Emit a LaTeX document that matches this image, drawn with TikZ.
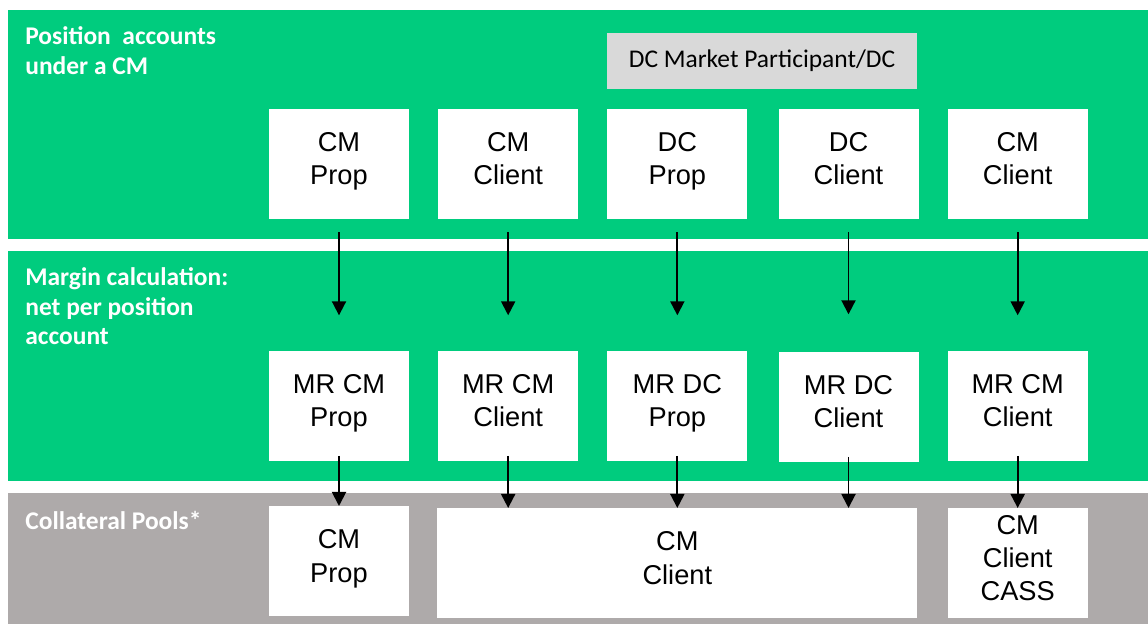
\documentclass[tikz,border=0pt]{standalone}
\usepackage{fontspec}
\setmainfont{Liberation Sans}
\newfontfamily\labelfont{Carlito}
\usetikzlibrary{arrows.meta,positioning}
\definecolor{bandgreen}{RGB}{0,204,126}
\definecolor{poolgray}{RGB}{174,170,170}
\definecolor{dcgray}{RGB}{217,217,217}

\begin{document}
\begin{tikzpicture}[
    x=0.02cm, y=-0.02cm,
    acct/.style={rectangle, fill=white, minimum width=2.8cm, minimum height=2.2cm, align=center, inner sep=0pt,
        font=\fontsize{15.5}{19}\selectfont, execute at begin node={\rule{0pt}{17pt}}, execute at end node={\rule[-6pt]{0pt}{6pt}}},
    dcbox/.style={rectangle, fill=dcgray, minimum width=6.2cm, minimum height=1.12cm, inner sep=0pt, font=\labelfont\fontsize{14.5}{17}\selectfont},
    rowlabel/.style={anchor=north west, align=left, inner sep=0pt, text=white, font=\labelfont\bfseries\fontsize{14.5}{17}\selectfont},
    arrow/.style={-{Triangle[width=8pt,length=8pt]}, line width=1.1pt}
]
\useasboundingbox (0,0) rectangle (1148,624);
\fill[white] (0,0) rectangle (1148,624);

% Bands
\fill[bandgreen] (8,10) rectangle (1148,239);
\fill[bandgreen] (8,251) rectangle (1148,481);
\fill[poolgray] (8,493) rectangle (1148,624);

% Row labels
\node[rowlabel] (poslabel) at (25,26) {Position\ \ accounts\\under a CM};
\node[rowlabel] (marginlabel) at (25,267) {Margin calculation:\\net per position\\account};
\node[rowlabel] (poollabel) at (25,511) {Collateral Pools*};

% Position accounts
\node[acct] (cmprop) at (339,164) {CM\\Prop};
\node[acct, right=0.57cm of cmprop] (cmclient) {CM\\Client};
\node[acct, right=0.57cm of cmclient] (dcprop) {DC\\Prop};
\node[acct, right=0.61cm of dcprop] (dcclient) {DC\\Client};
\node[acct, right=0.57cm of dcclient] (cmclienttwo) {CM\\Client};
\node[dcbox] (dcmp) at (762,61) {DC Market Participant/DC};

% Margin requirements
\node[acct, below=2.62cm of cmprop] (mrcmprop) {MR CM\\Prop};
\node[acct, below=2.62cm of cmclient] (mrcmclient) {MR CM\\Client};
\node[acct, below=2.62cm of dcprop] (mrdcprop) {MR DC\\Prop};
\node[acct, below=2.64cm of dcclient] (mrdcclient) {MR DC\\Client};
\node[acct, below=2.62cm of cmclienttwo] (mrcmclienttwo) {MR CM\\Client};

% Collateral pools
\node[acct, below=0.9cm of mrcmprop] (poolprop) {CM\\Prop};
\node[acct, minimum width=9.6cm, below=0.94cm of mrdcprop] (poolclient) {CM\\Client};
\node[acct, below=0.94cm of mrcmclienttwo] (poolcass) {CM\\Client\\CASS};

% Arrows
\draw[arrow] ([yshift=-0.26cm]cmprop.south) -- ([yshift=0.7cm]mrcmprop.north);
\draw[arrow] ([yshift=-0.26cm]cmclient.south) -- ([yshift=0.7cm]mrcmclient.north);
\draw[arrow] ([yshift=-0.26cm]dcprop.south) -- ([yshift=0.7cm]mrdcprop.north);
\draw[arrow] ([yshift=-0.26cm]dcclient.south) -- ([yshift=0.74cm]mrdcclient.north);
\draw[arrow] ([yshift=-0.26cm]cmclienttwo.south) -- ([yshift=0.7cm]mrcmclienttwo.north);

\draw[arrow] ([yshift=0.1cm]mrcmprop.south) -- (poolprop.north);
\draw[arrow] ([yshift=0.1cm]mrcmclient.south) -- (mrcmclient.south |- poolclient.north);
\draw[arrow] ([yshift=0.1cm]mrdcprop.south) -- (poolclient.north);
\draw[arrow] ([yshift=0.1cm]mrdcclient.south) -- (mrdcclient.south |- poolclient.north);
\draw[arrow] ([yshift=0.1cm]mrcmclienttwo.south) -- (poolcass.north);

\end{tikzpicture}
\end{document}
